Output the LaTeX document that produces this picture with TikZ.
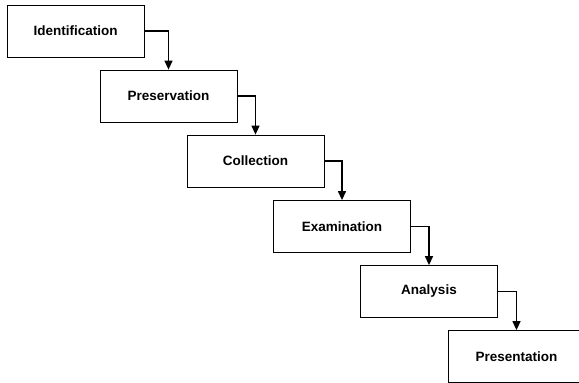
\documentclass[tikz,border=0pt]{standalone}
\usepackage{fontspec}
\setmainfont{Liberation Sans}
\usetikzlibrary{arrows.meta}

\begin{document}
\begin{tikzpicture}[
	x = 1pt, y = -1pt,
	% estilos
	%	a. caja de cada fase
	phase/.style = {
		draw, line width = 0.8pt,
		minimum width = 137pt, minimum height = 52pt,
		inner sep = 0pt,
		font = \fontsize{13.5}{16}\selectfont\bfseries
	},
	%	b. flecha entre fases
	flow/.style = {
		line width = 1.3pt,
		arrows = -{Triangle[length = 9pt, width = 8pt]}
	},
]

	% márgenes del dibujo
	\useasboundingbox (0,0) rectangle (579,383);
	\clip (0,0) rectangle (579,383);

	% fases
	\node[phase] (ident) at (75.5,31)   {Identification};
	\node[phase] (pres)  at (168.5,96)  {Preservation};
	\node[phase] (coll)  at (255.5,161) {Collection};
	\node[phase] (exam)  at (342,226.5) {Examination};
	\node[phase] (anal)  at (429,291.5) {Analysis};
	\node[phase] (prsnt) at (516.5,356.5) {Presentation};

	% flechas
	\draw[flow] (ident.east) -| (pres.north);
	\draw[flow] (pres.east)  -| (coll.north);
	\draw[flow] (coll.east)  -| (exam.north);
	\draw[flow] (exam.east)  -| (anal.north);
	\draw[flow] (anal.east)  -| (prsnt.north);

\end{tikzpicture}
\end{document}
